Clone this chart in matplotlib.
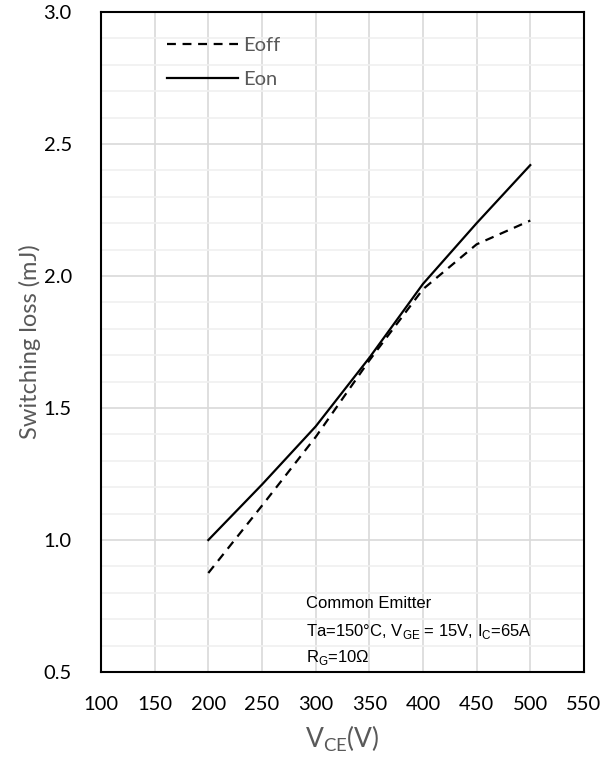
import numpy as np
import matplotlib.pyplot as plt
from matplotlib.ticker import MultipleLocator, FormatStrFormatter

plt.rcParams['font.family'] = ['Lato', 'DejaVu Sans']

# switching loss vs collector-emitter voltage
vce = [200, 250, 300, 350, 400, 450, 500]
eoff = [0.875, 1.13, 1.39, 1.68, 1.95, 2.12, 2.21]
eon = [1.00, 1.21, 1.43, 1.69, 1.97, 2.20, 2.42]

GRAY_TXT = '#595959'

fig = plt.figure(figsize=(6.14, 7.69), dpi=100)
ax = fig.add_axes([0.1645, 0.1261, 0.7865, 0.8583])

ax.plot(vce, eoff, color='black', lw=1.6, ls=(0, (4, 3)), label='Eoff')
ax.plot(vce, eon, color='black', lw=1.6, label='Eon')

ax.set_xlim(100, 550)
ax.set_ylim(0.5, 3.0)
ax.xaxis.set_major_locator(MultipleLocator(50))
ax.yaxis.set_major_locator(MultipleLocator(0.5))
ax.yaxis.set_minor_locator(MultipleLocator(0.1))
ax.yaxis.set_major_formatter(FormatStrFormatter('%.1f'))

ax.grid(which='major', color='#d9d9d9', lw=1.2, zorder=0)
ax.grid(which='minor', axis='y', color='#f0f0f0', lw=1.2, zorder=0)
ax.set_axisbelow(True)

ax.tick_params(which='both', length=0, labelsize=14.5, colors='black')
ax.tick_params(axis='x', pad=17)
ax.tick_params(axis='y', pad=21)
for s in ax.spines.values():
    s.set_linewidth(1.5)
    s.set_color('black')

ax.set_xlabel(r'V$_{\mathregular{CE}}$(V)', fontsize=19, color=GRAY_TXT, labelpad=8)
ax.set_ylabel('Switching loss (mJ)', fontsize=17, color=GRAY_TXT, labelpad=2)

leg = ax.legend(loc='upper left', bbox_to_anchor=(0.1, 0.99), frameon=False,
                handlelength=3.5, handletextpad=0.25, labelspacing=0.85,
                fontsize=14.5, labelcolor=GRAY_TXT)

note = dict(family=['Liberation Sans', 'DejaVu Sans'], fontsize=12, color='black',
            transform=ax.transAxes, va='center', ha='left')
ax.text(0.424, 0.104, 'Common Emitter', **note)
ax.text(0.424, 0.062, r'Ta=150°C, V$_{\mathregular{GE}}$ = 15V, I$_{\mathregular{C}}$=65A', **note)
ax.text(0.424, 0.022, r'R$_{\mathregular{G}}$=10Ω', **note)

fig.savefig('out.png', dpi=100)
